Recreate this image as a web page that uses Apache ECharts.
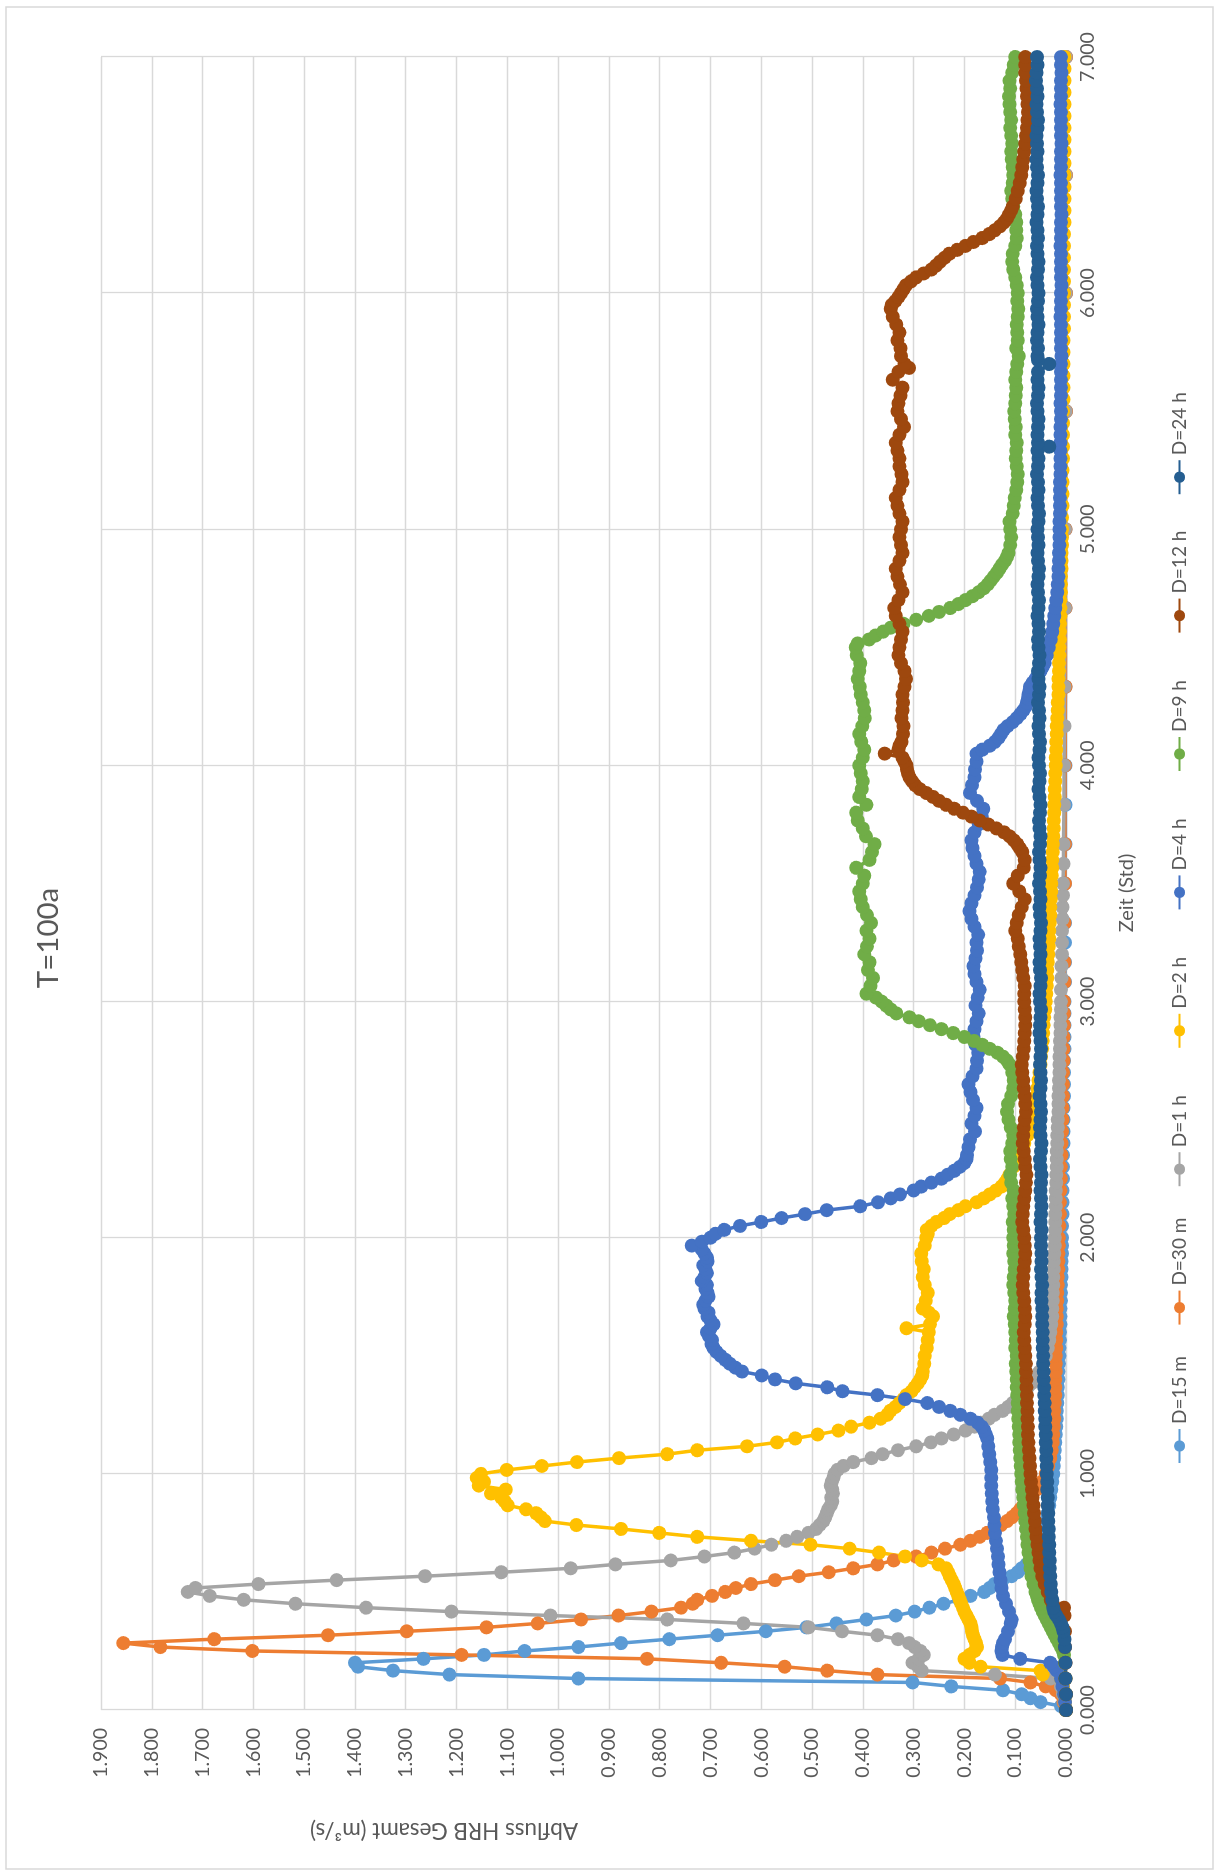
<!DOCTYPE html>
<html>
<head>
<meta charset="utf-8">
<script src="https://cdn.jsdelivr.net/npm/echarts@6/dist/echarts.min.js"></script>
<style>
html,body{margin:0;padding:0;background:#fff;width:1219px;height:1875px;overflow:hidden;}
#chart{position:absolute;left:0;top:0;width:1875px;height:1219px;transform-origin:0 0;transform:translate(0,1875px) rotate(-90deg);}
</style>
</head>
<body>
<div id="chart"></div>
<script>
// ---------- DATA (time in minutes, discharge in m³/s) ----------
const chartTitle = 'T=100a';
const timeAxisTitle = 'Zeit (Std)';
const valueAxisTitle = 'Abfluss HRB Gesamt (m³/s)';
const seriesNames = ['D=15 m','D=30 m','D=1 h','D=2 h','D=4 h','D=9 h','D=12 h','D=24 h'];
const timeTicksHours = [0,1,2,3,4,5,6,7];

const d15m = [[0,0],[1,0.01],[2,0.05],[3,0.07],[4,0.087],[5,0.124],[6,0.226],[7,0.302],[8,0.96],[9,1.214],[10,1.325],[11,1.394],[12,1.40],[13,1.265],[14,1.146],[15,1.066],[16,0.96],[17,0.876],[18,0.781],[19,0.686],[20,0.591],[21,0.511],[22,0.452],[23,0.393],[24,0.335],[25,0.298],[26,0.269],[27,0.241],[28,0.21],[29,0.188],[30,0.161],[31,0.15],[32,0.141],[33,0.125],[34,0.107],[35,0.095],[36,0.087],[37,0.078],[38,0.07],[39,0.066],[40,0.062],[42,0.055],[44,0.049],[46,0.044],[48,0.04],[50,0.036],[52,0.033],[54,0.031],[56,0.029],[58,0.027],[60,0.025],[62,0.024],[64,0.023],[66,0.022],[68,0.021],[70,0.02],[72,0.019],[74,0.018],[76,0.018],[78,0.017],[80,0.016],[82,0.016],[84,0.015],[86,0.015],[88,0.014],[90,0.013],[92,0.013],[94,0.012],[96,0.012],[98,0.011],[100,0.011],[102,0.011],[104,0.01],[106,0.01],[108,0.01],[110,0.009],[112,0.009],[114,0.009],[116,0.008],[118,0.008],[120,0.008],[123,0.008],[126,0.007],[129,0.007],[132,0.007],[135,0.006],[138,0.006],[141,0.006],[144,0.005],[147,0.005],[150,0.005],[153,0.005],[156,0.004],[159,0.004],[162,0.004],[165,0.004],[168,0.003],[171,0.003],[174,0.003],[177,0.003],[180,0.003],[185,0.002],[190,0.002],[195,0.002],[200,0.002],[210,0.002],[220,0.001],[230,0.001],[240,0.001],[260,0.001],[280,0.001],[300,0.001],[330,0],[360,0],[390,0],[420,0]];

const d30m = [[0,0],[2,0.005],[4,0.01],[5,0.02],[6,0.04],[7,0.07],[8,0.13],[9,0.371],[10,0.47],[11,0.554],[12,0.679],[13,0.825],[14,1.19],[15,1.602],[16,1.783],[17,1.856],[18,1.677],[19,1.453],[20,1.298],[21,1.141],[22,1.04],[23,0.955],[24,0.881],[25,0.816],[26,0.758],[27,0.735],[28,0.726],[29,0.697],[30,0.671],[31,0.65],[32,0.62],[33,0.573],[34,0.526],[35,0.467],[36,0.419],[37,0.371],[38,0.339],[39,0.295],[40,0.265],[41,0.238],[42,0.208],[43,0.188],[44,0.17],[45,0.155],[46,0.141],[47,0.128],[48,0.116],[49,0.106],[50,0.097],[51,0.09],[52,0.084],[54,0.07],[56,0.058],[58,0.048],[60,0.04],[62,0.035],[64,0.031],[66,0.028],[68,0.026],[70,0.025],[72,0.024],[74,0.023],[76,0.023],[78,0.022],[80,0.021],[82,0.021],[84,0.021],[86,0.02],[88,0.02],[90,0.02],[92,0.019],[94,0.019],[96,0.019],[98,0.018],[100,0.018],[102,0.018],[104,0.017],[106,0.017],[108,0.016],[110,0.016],[112,0.015],[114,0.015],[116,0.015],[118,0.014],[120,0.014],[123,0.013],[126,0.012],[129,0.012],[132,0.011],[135,0.01],[138,0.01],[141,0.009],[144,0.009],[147,0.008],[150,0.007],[153,0.007],[156,0.006],[159,0.006],[162,0.006],[165,0.005],[168,0.005],[171,0.005],[174,0.004],[177,0.004],[180,0.004],[185,0.003],[190,0.003],[200,0.003],[210,0.002],[220,0.002],[240,0.002],[260,0.001],[280,0.001],[300,0.001],[330,0],[360,0],[390,0],[420,0]];

const d1h = [[0,0],[2,0.003],[4,0.006],[6,0.01],[8,0.03],[9,0.14],[10,0.284],[11,0.291],[12,0.302],[13,0.29],[14,0.28],[15,0.287],[16,0.298],[17,0.309],[18,0.331],[19,0.371],[20,0.441],[21,0.507],[22,0.635],[23,0.785],[24,1.015],[25,1.21],[26,1.378],[27,1.517],[28,1.619],[29,1.686],[30,1.729],[31,1.714],[32,1.59],[33,1.436],[34,1.262],[35,1.112],[36,0.975],[37,0.887],[38,0.778],[39,0.712],[40,0.653],[41,0.613],[42,0.58],[43,0.551],[44,0.529],[45,0.507],[46,0.492],[47,0.485],[48,0.478],[49,0.474],[50,0.471],[51,0.468],[52,0.463],[53,0.46],[54,0.462],[55,0.459],[56,0.46],[57,0.463],[58,0.461],[59,0.458],[60,0.456],[61,0.45],[62,0.438],[63,0.419],[64,0.383],[65,0.361],[66,0.331],[67,0.295],[68,0.266],[69,0.245],[70,0.221],[71,0.198],[72,0.18],[73,0.168],[74,0.152],[75,0.141],[76,0.125],[77,0.114],[78,0.105],[79,0.097],[80,0.09],[81,0.082],[82,0.075],[83,0.068],[84,0.062],[86,0.052],[88,0.045],[90,0.04],[92,0.036],[94,0.033],[96,0.031],[98,0.029],[100,0.027],[102,0.027],[104,0.026],[106,0.026],[108,0.025],[110,0.025],[112,0.024],[114,0.024],[116,0.023],[118,0.022],[120,0.022],[122,0.021],[124,0.021],[126,0.021],[128,0.02],[130,0.02],[132,0.02],[134,0.019],[136,0.019],[138,0.018],[140,0.018],[142,0.018],[144,0.017],[146,0.017],[148,0.016],[150,0.016],[152,0.015],[154,0.015],[156,0.015],[158,0.014],[160,0.014],[162,0.013],[164,0.013],[166,0.013],[168,0.012],[170,0.012],[172,0.011],[174,0.011],[176,0.011],[178,0.01],[180,0.01],[183,0.01],[186,0.009],[189,0.009],[192,0.008],[195,0.008],[198,0.008],[201,0.007],[204,0.007],[207,0.006],[210,0.006],[215,0.005],[220,0.005],[230,0.004],[240,0.004],[250,0.003],[260,0.003],[280,0.002],[300,0.002],[330,0.001],[360,0.001],[390,0.001],[420,0.001]];

const d2h = [[0,0],[2,0.002],[4,0.004],[6,0.006],[8,0.01],[9,0.046],[10,0.05],[11,0.168],[12,0.19],[13,0.2],[14,0.19],[15,0.18],[16,0.175],[17,0.177],[18,0.18],[19,0.183],[20,0.185],[21,0.186],[22,0.188],[23,0.192],[24,0.196],[25,0.2],[26,0.203],[27,0.206],[28,0.209],[29,0.212],[30,0.215],[31,0.218],[32,0.221],[33,0.225],[34,0.229],[35,0.232],[36,0.236],[37,0.251],[38,0.284],[39,0.317],[40,0.368],[41,0.426],[42,0.503],[43,0.62],[44,0.726],[45,0.801],[46,0.876],[47,0.964],[48,1.026],[49,1.034],[50,1.043],[51,1.063],[52,1.099],[53,1.105],[54,1.112],[55,1.132],[56,1.103],[57,1.156],[58,1.146],[59,1.16],[60,1.152],[61,1.101],[62,1.032],[63,0.963],[64,0.88],[65,0.785],[66,0.726],[67,0.628],[68,0.569],[69,0.533],[70,0.489],[71,0.448],[72,0.423],[73,0.387],[74,0.365],[75,0.352],[76,0.346],[77,0.336],[78,0.328],[79,0.32],[80,0.314],[81,0.304],[82,0.298],[83,0.292],[84,0.287],[85,0.283],[86,0.282],[88,0.279],[90,0.278],[92,0.274],[94,0.272],[96,0.27],[97,0.314],[98,0.268],[100,0.262],[101,0.27],[102,0.282],[104,0.276],[106,0.272],[108,0.278],[110,0.282],[112,0.28],[114,0.284],[116,0.285],[118,0.278],[120,0.275],[121,0.272],[122,0.274],[123,0.265],[124,0.255],[125,0.24],[126,0.229],[127,0.212],[128,0.198],[129,0.176],[130,0.162],[131,0.15],[132,0.138],[133,0.127],[134,0.12],[135,0.115],[136,0.111],[138,0.104],[140,0.097],[142,0.09],[144,0.082],[146,0.076],[148,0.071],[150,0.067],[152,0.064],[154,0.061],[156,0.058],[158,0.056],[160,0.054],[162,0.052],[164,0.05],[166,0.049],[168,0.047],[170,0.046],[172,0.045],[174,0.044],[176,0.043],[178,0.041],[180,0.04],[182,0.039],[184,0.038],[186,0.037],[188,0.037],[190,0.036],[192,0.035],[194,0.034],[196,0.033],[198,0.033],[200,0.032],[202,0.031],[204,0.031],[206,0.03],[208,0.029],[210,0.029],[212,0.028],[214,0.027],[216,0.027],[218,0.026],[220,0.026],[222,0.025],[224,0.024],[226,0.024],[228,0.023],[230,0.023],[232,0.022],[234,0.022],[236,0.021],[238,0.021],[240,0.02],[242,0.02],[244,0.019],[246,0.019],[248,0.018],[250,0.018],[252,0.017],[254,0.016],[256,0.016],[258,0.015],[260,0.015],[262,0.015],[264,0.014],[266,0.014],[268,0.013],[270,0.013],[272,0.012],[274,0.012],[276,0.012],[278,0.011],[280,0.011],[282,0.011],[284,0.01],[286,0.01],[288,0.01],[290,0.009],[292,0.009],[294,0.009],[296,0.008],[298,0.008],[300,0.008],[303,0.008],[306,0.007],[309,0.007],[312,0.007],[315,0.007],[318,0.006],[321,0.006],[324,0.006],[327,0.006],[330,0.006],[333,0.005],[336,0.005],[339,0.005],[342,0.005],[345,0.005],[348,0.005],[351,0.004],[354,0.004],[357,0.004],[360,0.004],[363,0.004],[366,0.004],[369,0.004],[372,0.004],[375,0.004],[378,0.003],[381,0.003],[384,0.003],[387,0.003],[390,0.003],[393,0.003],[396,0.003],[399,0.003],[402,0.003],[405,0.003],[408,0.003],[411,0.003],[414,0.003],[417,0.003],[420,0.003]];

const d4h = [[0,0],[2,0.002],[4,0.004],[6,0.007],[8,0.01],[10,0.018],[11,0.024],[12,0.031],[13,0.09],[14,0.125],[15,0.127],[16,0.126],[17,0.124],[18,0.12],[20,0.114],[22,0.109],[23,0.107],[25,0.112],[27,0.118],[29,0.124],[31,0.127],[33,0.129],[35,0.131],[37,0.133],[39,0.134],[41,0.136],[43,0.138],[45,0.14],[47,0.141],[49,0.142],[51,0.144],[53,0.145],[55,0.146],[57,0.147],[59,0.147],[61,0.147],[63,0.149],[65,0.151],[67,0.153],[69,0.155],[70,0.158],[71,0.161],[72,0.166],[73,0.174],[74,0.188],[75,0.208],[76,0.228],[77,0.25],[78,0.273],[79,0.317],[80,0.371],[81,0.44],[82,0.47],[83,0.532],[84,0.573],[85,0.599],[86,0.638],[87,0.651],[88,0.662],[89,0.671],[90,0.68],[91,0.688],[92,0.694],[93,0.698],[94,0.697],[95,0.703],[96,0.707],[97,0.7],[98,0.694],[99,0.7],[100,0.706],[101,0.704],[102,0.712],[103,0.714],[104,0.71],[105,0.704],[106,0.706],[107,0.71],[108,0.707],[109,0.717],[110,0.712],[111,0.707],[112,0.71],[113,0.714],[114,0.706],[115,0.707],[116,0.712],[117,0.717],[118,0.737],[119,0.717],[120,0.7],[121,0.69],[122,0.673],[123,0.642],[124,0.6],[125,0.56],[126,0.514],[127,0.471],[128,0.405],[129,0.37],[130,0.345],[131,0.327],[132,0.3],[133,0.285],[134,0.265],[135,0.245],[136,0.233],[137,0.22],[138,0.209],[139,0.2],[140,0.196],[141,0.195],[143,0.192],[145,0.189],[147,0.179],[149,0.186],[151,0.18],[153,0.176],[155,0.183],[157,0.188],[159,0.192],[161,0.184],[163,0.176],[165,0.175],[167,0.173],[169,0.178],[171,0.182],[173,0.18],[175,0.176],[177,0.172],[179,0.178],[181,0.174],[183,0.17],[185,0.176],[187,0.18],[189,0.182],[191,0.178],[193,0.175],[195,0.176],[197,0.173],[199,0.18],[201,0.186],[203,0.19],[205,0.186],[207,0.18],[209,0.175],[211,0.172],[213,0.17],[215,0.176],[217,0.18],[219,0.184],[221,0.186],[223,0.18],[225,0.172],[227,0.166],[229,0.163],[231,0.175],[233,0.189],[235,0.185],[237,0.18],[239,0.179],[241,0.176],[243,0.176],[244,0.165],[245,0.15],[246,0.14],[247,0.133],[248,0.128],[249,0.123],[250,0.115],[251,0.105],[252,0.097],[253,0.09],[254,0.084],[255,0.079],[256,0.077],[257,0.075],[258,0.074],[259,0.072],[260,0.071],[261,0.066],[262,0.06],[263,0.055],[264,0.05],[265,0.046],[266,0.042],[268,0.038],[270,0.034],[272,0.03],[274,0.027],[276,0.025],[278,0.023],[280,0.021],[282,0.019],[284,0.017],[286,0.016],[288,0.015],[290,0.015],[292,0.014],[294,0.014],[296,0.013],[298,0.013],[300,0.013],[302,0.013],[304,0.012],[306,0.012],[308,0.012],[310,0.012],[312,0.012],[314,0.011],[316,0.011],[318,0.011],[320,0.011],[322,0.011],[324,0.011],[326,0.011],[328,0.01],[330,0.01],[332,0.011],[334,0.01],[336,0.01],[338,0.01],[340,0.01],[342,0.01],[344,0.009],[346,0.01],[348,0.01],[350,0.01],[352,0.01],[354,0.011],[356,0.01],[358,0.01],[360,0.01],[362,0.009],[364,0.01],[366,0.01],[368,0.01],[370,0.01],[372,0.011],[374,0.01],[376,0.01],[378,0.01],[380,0.009],[382,0.01],[384,0.01],[386,0.01],[388,0.01],[390,0.011],[392,0.01],[394,0.01],[396,0.01],[398,0.009],[400,0.01],[402,0.01],[404,0.01],[406,0.01],[408,0.011],[410,0.01],[412,0.01],[414,0.01],[416,0.009],[418,0.01],[420,0.01]];

const d9h = [[0,0],[4,0],[8,0.001],[12,0.002],[14,0.004],[15,0.006],[16,0.01],[17,0.014],[18,0.018],[19,0.022],[20,0.026],[21,0.03],[22,0.034],[23,0.038],[24,0.042],[25,0.046],[26,0.049],[27,0.052],[28,0.055],[29,0.057],[30,0.06],[32,0.064],[34,0.068],[36,0.07],[38,0.072],[40,0.074],[42,0.076],[44,0.077],[46,0.079],[48,0.08],[50,0.081],[52,0.083],[54,0.084],[56,0.086],[58,0.087],[60,0.088],[62,0.089],[64,0.09],[66,0.091],[68,0.092],[70,0.092],[72,0.093],[74,0.094],[76,0.095],[78,0.095],[80,0.096],[82,0.097],[84,0.097],[86,0.098],[88,0.099],[90,0.097],[92,0.1],[94,0.099],[96,0.1],[98,0.101],[100,0.103],[102,0.101],[104,0.1],[106,0.102],[108,0.104],[110,0.103],[112,0.101],[114,0.102],[116,0.104],[118,0.103],[120,0.104],[122,0.103],[124,0.105],[126,0.102],[128,0.104],[130,0.106],[132,0.103],[134,0.108],[136,0.11],[138,0.106],[140,0.109],[142,0.11],[144,0.106],[146,0.104],[148,0.109],[150,0.113],[152,0.116],[154,0.114],[156,0.108],[158,0.104],[160,0.103],[162,0.106],[164,0.111],[165,0.116],[166,0.124],[167,0.135],[168,0.15],[169,0.165],[170,0.181],[171,0.2],[172,0.222],[173,0.245],[174,0.268],[175,0.29],[176,0.308],[177,0.334],[178,0.345],[179,0.354],[180,0.363],[181,0.374],[182,0.393],[184,0.385],[186,0.38],[188,0.39],[190,0.387],[192,0.397],[194,0.392],[196,0.387],[198,0.393],[200,0.384],[202,0.392],[204,0.4],[206,0.404],[208,0.407],[210,0.4],[212,0.397],[214,0.413],[216,0.387],[218,0.382],[220,0.377],[222,0.394],[224,0.4],[226,0.41],[228,0.413],[230,0.393],[232,0.407],[234,0.402],[236,0.4],[238,0.404],[240,0.407],[242,0.4],[244,0.397],[246,0.403],[248,0.407],[250,0.401],[252,0.396],[254,0.397],[256,0.4],[258,0.404],[260,0.406],[262,0.41],[264,0.407],[266,0.405],[268,0.412],[270,0.414],[271,0.41],[272,0.388],[273,0.375],[274,0.36],[275,0.345],[276,0.32],[277,0.295],[278,0.27],[279,0.25],[280,0.228],[281,0.212],[282,0.198],[283,0.184],[284,0.172],[285,0.162],[286,0.154],[287,0.148],[288,0.142],[289,0.136],[290,0.131],[291,0.126],[292,0.12],[293,0.116],[294,0.113],[296,0.11],[298,0.108],[300,0.11],[302,0.111],[304,0.105],[306,0.103],[308,0.101],[310,0.098],[312,0.096],[314,0.095],[316,0.097],[318,0.099],[320,0.098],[322,0.097],[324,0.1],[326,0.099],[328,0.101],[330,0.102],[332,0.1],[334,0.099],[336,0.098],[338,0.1],[340,0.098],[342,0.096],[344,0.093],[346,0.098],[348,0.095],[350,0.096],[352,0.097],[354,0.095],[356,0.094],[358,0.096],[360,0.095],[362,0.097],[364,0.1],[366,0.104],[368,0.106],[370,0.105],[372,0.1],[374,0.097],[376,0.098],[378,0.098],[380,0.1],[382,0.104],[384,0.106],[386,0.108],[388,0.105],[390,0.104],[392,0.105],[394,0.107],[396,0.108],[398,0.106],[400,0.108],[402,0.11],[404,0.108],[406,0.11],[408,0.111],[410,0.112],[412,0.11],[414,0.111],[416,0.106],[418,0.103],[420,0.1]];

const d12h = [[0,0],[4,0],[8,0.001],[12,0.001],[16,0.002],[20,0.002],[24,0.003],[26,0.004],[27,0.026],[28,0.03],[30,0.036],[32,0.042],[34,0.047],[36,0.05],[38,0.052],[40,0.054],[42,0.056],[44,0.058],[46,0.06],[48,0.061],[50,0.063],[52,0.064],[54,0.066],[56,0.067],[58,0.069],[60,0.07],[62,0.071],[64,0.072],[66,0.073],[68,0.074],[70,0.075],[72,0.075],[74,0.076],[76,0.076],[78,0.077],[80,0.077],[82,0.078],[84,0.078],[86,0.079],[88,0.079],[90,0.08],[92,0.081],[94,0.082],[96,0.083],[98,0.081],[100,0.08],[102,0.081],[104,0.082],[106,0.084],[108,0.085],[110,0.084],[112,0.083],[114,0.081],[116,0.08],[118,0.081],[120,0.082],[122,0.084],[124,0.086],[126,0.085],[128,0.084],[130,0.082],[132,0.08],[134,0.079],[136,0.078],[138,0.08],[140,0.081],[142,0.083],[144,0.085],[146,0.084],[148,0.083],[150,0.081],[152,0.079],[154,0.08],[156,0.081],[158,0.083],[160,0.084],[162,0.086],[164,0.087],[166,0.085],[168,0.083],[170,0.082],[172,0.081],[174,0.08],[176,0.08],[178,0.081],[180,0.082],[182,0.082],[184,0.081],[186,0.084],[188,0.086],[190,0.088],[192,0.09],[194,0.093],[196,0.095],[198,0.1],[200,0.097],[202,0.093],[204,0.087],[206,0.081],[208,0.092],[210,0.104],[212,0.095],[214,0.083],[216,0.081],[218,0.086],[219,0.091],[220,0.096],[221,0.103],[222,0.111],[223,0.122],[224,0.137],[225,0.153],[226,0.17],[227,0.186],[228,0.203],[229,0.22],[230,0.236],[231,0.25],[232,0.262],[233,0.275],[234,0.288],[235,0.297],[236,0.303],[237,0.308],[238,0.311],[239,0.313],[240,0.314],[241,0.318],[242,0.322],[243,0.357],[244,0.33],[245,0.328],[246,0.324],[248,0.321],[250,0.32],[252,0.324],[254,0.322],[256,0.321],[258,0.322],[260,0.318],[262,0.315],[264,0.318],[266,0.325],[268,0.33],[270,0.328],[272,0.325],[274,0.322],[276,0.328],[278,0.335],[280,0.338],[282,0.33],[284,0.322],[286,0.327],[288,0.332],[290,0.335],[292,0.328],[294,0.322],[296,0.325],[298,0.328],[300,0.325],[302,0.322],[304,0.328],[306,0.332],[308,0.335],[310,0.328],[312,0.322],[314,0.324],[316,0.328],[318,0.328],[320,0.332],[322,0.335],[324,0.328],[326,0.319],[328,0.325],[330,0.332],[332,0.33],[334,0.326],[336,0.322],[338,0.341],[340,0.33],[341,0.309],[342,0.318],[344,0.325],[346,0.326],[348,0.332],[350,0.328],[352,0.334],[354,0.341],[356,0.345],[357,0.343],[358,0.336],[359,0.33],[360,0.325],[361,0.32],[362,0.315],[363,0.305],[364,0.295],[365,0.28],[366,0.265],[367,0.256],[368,0.248],[369,0.239],[370,0.23],[371,0.214],[372,0.198],[373,0.182],[374,0.165],[375,0.151],[376,0.14],[377,0.13],[378,0.122],[379,0.116],[380,0.112],[381,0.108],[382,0.105],[384,0.099],[386,0.095],[388,0.091],[390,0.088],[392,0.086],[394,0.084],[396,0.082],[398,0.08],[400,0.079],[402,0.077],[404,0.076],[406,0.075],[408,0.076],[410,0.077],[412,0.078],[414,0.079],[416,0.08],[418,0.08],[420,0.08]];

const d24h = [[0,0],[4,0],[8,0.001],[12,0.001],[16,0.002],[18,0.003],[20,0.005],[21,0.007],[22,0.01],[23,0.014],[24,0.019],[25,0.023],[26,0.025],[28,0.027],[30,0.029],[32,0.03],[34,0.031],[36,0.032],[38,0.032],[40,0.033],[42,0.033],[44,0.034],[46,0.034],[48,0.035],[50,0.035],[52,0.036],[54,0.036],[56,0.037],[58,0.037],[60,0.038],[62,0.038],[64,0.039],[66,0.039],[68,0.04],[70,0.04],[72,0.041],[74,0.041],[76,0.042],[78,0.042],[80,0.043],[82,0.043],[84,0.044],[86,0.044],[88,0.045],[90,0.045],[92,0.046],[94,0.046],[96,0.046],[98,0.047],[100,0.047],[102,0.047],[104,0.048],[106,0.048],[108,0.047],[110,0.048],[112,0.049],[114,0.048],[116,0.048],[118,0.049],[120,0.049],[122,0.048],[124,0.05],[126,0.049],[128,0.048],[130,0.049],[132,0.05],[134,0.049],[136,0.048],[138,0.05],[140,0.051],[142,0.049],[144,0.048],[146,0.05],[148,0.051],[150,0.05],[152,0.049],[154,0.05],[156,0.052],[158,0.05],[160,0.049],[162,0.05],[164,0.051],[166,0.05],[168,0.049],[170,0.05],[172,0.052],[174,0.051],[176,0.05],[178,0.049],[180,0.051],[182,0.052],[184,0.05],[186,0.049],[188,0.051],[190,0.052],[192,0.05],[194,0.051],[196,0.052],[198,0.05],[200,0.049],[202,0.051],[204,0.052],[206,0.05],[208,0.051],[210,0.053],[212,0.051],[214,0.05],[216,0.052],[218,0.053],[220,0.051],[222,0.05],[224,0.052],[226,0.053],[228,0.051],[230,0.05],[232,0.052],[234,0.054],[236,0.052],[238,0.051],[240,0.053],[242,0.054],[244,0.052],[246,0.051],[248,0.053],[250,0.054],[252,0.052],[254,0.053],[256,0.055],[258,0.053],[260,0.052],[262,0.054],[264,0.055],[266,0.053],[268,0.052],[270,0.054],[272,0.055],[274,0.053],[276,0.054],[278,0.056],[280,0.054],[282,0.053],[284,0.055],[286,0.056],[288,0.054],[290,0.053],[292,0.055],[294,0.056],[296,0.054],[298,0.055],[300,0.056],[302,0.054],[304,0.053],[306,0.055],[308,0.056],[310,0.054],[312,0.055],[314,0.057],[316,0.055],[318,0.054],[320,0.056],[321,0.033],[322,0.055],[324,0.056],[326,0.055],[328,0.054],[330,0.056],[332,0.057],[334,0.055],[336,0.054],[338,0.056],[340,0.055],[342,0.033],[343,0.055],[344,0.056],[346,0.055],[348,0.057],[350,0.056],[352,0.054],[354,0.056],[356,0.057],[358,0.055],[360,0.054],[362,0.056],[364,0.057],[366,0.055],[368,0.054],[370,0.056],[372,0.057],[374,0.055],[376,0.056],[378,0.058],[380,0.056],[382,0.055],[384,0.057],[386,0.058],[388,0.056],[390,0.055],[392,0.057],[394,0.058],[396,0.056],[398,0.057],[400,0.058],[402,0.056],[404,0.055],[406,0.057],[408,0.058],[410,0.056],[412,0.057],[414,0.059],[416,0.058],[418,0.056],[420,0.057]];

const seriesData = [d15m, d30m, d1h, d2h, d4h, d9h, d12h, d24h];

// ---------- STYLE ----------
const palette = ['#5B9BD5','#ED7D31','#A5A5A5','#FFC000','#4472C4','#70AD47','#9E480E','#255E91'];
const FONT = 'Lato, "Liberation Sans", Arial, sans-serif';
const TXT = '#595959';
const GRID = '#D9D9D9';

const chart = echarts.init(document.getElementById('chart'), null, {renderer:'canvas', width:1875, height:1219});

const series = seriesNames.map((name, i) => ({
  name: name,
  type: 'line',
  data: seriesData[i].map(p => [p[0] / 60, p[1]]),
  symbol: 'circle',
  symbolSize: 14,
  showSymbol: true,
  showAllSymbol: true,
  lineStyle: { color: palette[i], width: 3.5 },
  itemStyle: { color: palette[i] },
  emphasis: { disabled: true },
  animation: false,
  z: 2
}));

// one legend block per entry so that the entries sit in equal slots like the original
const legendSlot0 = 406, legendSlotStep = 138.4;
const legends = seriesNames.map((name, i) => ({
  data: [name],
  left: legendSlot0 + legendSlotStep * i, top: 1165, orient: 'horizontal',
  itemWidth: 34, itemHeight: 14, itemGap: 0,
  selectedMode: false,
  textStyle: { color: TXT, fontSize: 19, fontFamily: FONT }
}));

chart.setOption({
  animation: false,
  backgroundColor: '#ffffff',
  grid: { left: 165, right: 57, top: 101, bottom: 153, containLabel: false },
  xAxis: {
    type: 'value', min: timeTicksHours[0], max: timeTicksHours[timeTicksHours.length - 1], interval: 1,
    axisLine: { show: true, onZero: false, lineStyle: { color: GRID, width: 1.5 } },
    axisTick: { show: false },
    splitLine: { show: true, showMinLine: true, showMaxLine: true, lineStyle: { color: GRID, width: 1.3 } },
    axisLabel: { color: TXT, fontSize: 19.5, fontFamily: FONT, margin: 12, formatter: v => v.toFixed(3) }
  },
  yAxis: {
    type: 'value', min: 0, max: 1.9, interval: 0.1,
    axisLine: { show: false },
    axisTick: { show: false },
    splitLine: { show: true, showMinLine: true, showMaxLine: true, lineStyle: { color: GRID, width: 1.3 } },
    axisLabel: { color: TXT, fontSize: 19.5, fontFamily: FONT, margin: 18, formatter: v => v.toFixed(3) }
  },
  legend: legends,
  graphic: [
    { type: 'rect', silent: true, z: -10, shape: { x: 6, y: 6, width: 1862, height: 1207 },
      style: { fill: 'none', stroke: GRID, lineWidth: 1.5 } },
    { type: 'text', silent: true, x: 937, y: 48,
      style: { text: chartTitle, fontSize: 29.5, fontFamily: FONT, fill: TXT, align: 'center', verticalAlign: 'middle' } },
    { type: 'text', silent: true, x: 982, y: 1127,
      style: { text: timeAxisTitle, fontSize: 20, fontFamily: FONT, fill: TXT, align: 'center', verticalAlign: 'middle' } },
    { type: 'text', silent: true, x: 45, y: 444, rotation: Math.PI / 2,
      style: { text: valueAxisTitle, fontSize: 22.5, fontFamily: FONT, fill: TXT, align: 'center', verticalAlign: 'middle' } }
  ],
  series: series
});
</script>
</body>
</html>
